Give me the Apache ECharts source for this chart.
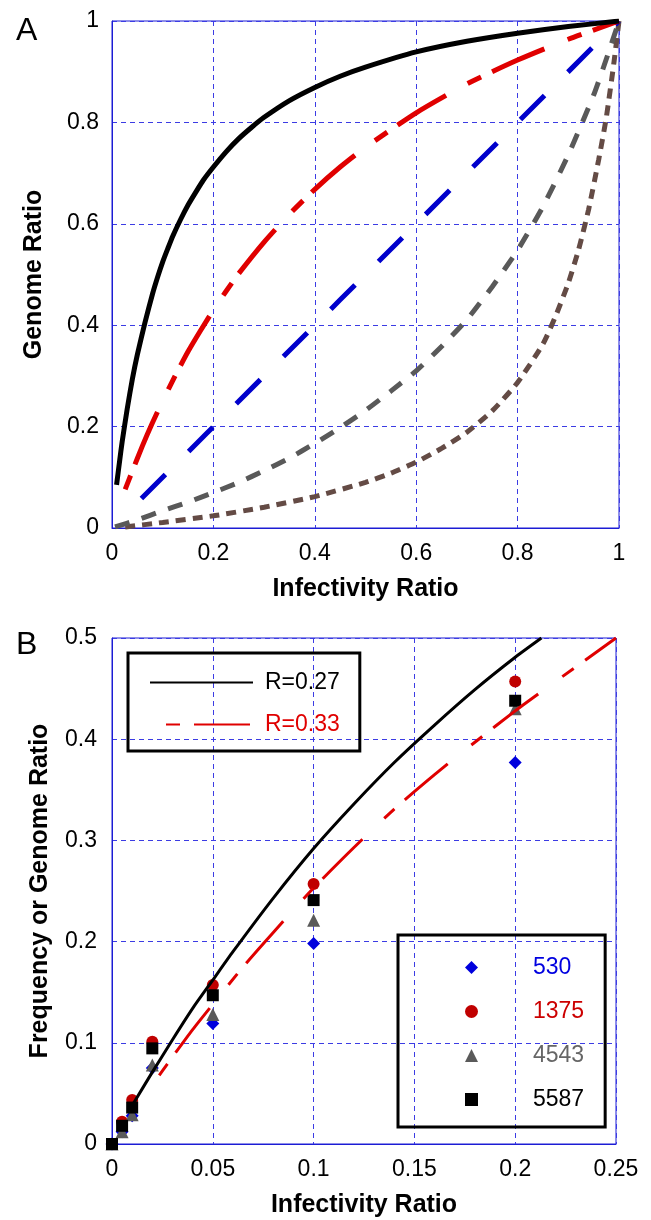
<!DOCTYPE html>
<html>
<head>
<meta charset="utf-8">
<script src="https://cdn.jsdelivr.net/npm/echarts@6/dist/echarts.min.js"></script>
<style>
  html, body { margin: 0; padding: 0; background: #ffffff; }
  #chart { width: 651px; height: 1220px; }
</style>
</head>
<body>
<div id="chart"></div>
<script>
// ---- panel A: genome ratio vs infectivity ratio, five model curves ----
const ticksA = [0, 0.2, 0.4, 0.6, 0.8, 1]
const curveBlackA = [[0.009, 0.085], [0.015, 0.132], [0.02, 0.17], [0.03, 0.235], [0.04, 0.293], [0.05, 0.342], [0.065, 0.405], [0.08, 0.462], [0.09, 0.495], [0.1, 0.525], [0.11, 0.551], [0.12, 0.576], [0.135, 0.608], [0.15, 0.637], [0.165, 0.662], [0.18, 0.686], [0.2, 0.712], [0.225, 0.742], [0.25, 0.768], [0.275, 0.79], [0.3, 0.81], [0.35, 0.843], [0.4, 0.869], [0.45, 0.891], [0.5, 0.909], [0.6, 0.939], [0.7, 0.96], [0.8, 0.976], [0.9, 0.989], [1, 1]]
const curveRedA = [[0.026, 0.076], [0.04, 0.112], [0.06, 0.162], [0.08, 0.208], [0.1, 0.251], [0.125, 0.301], [0.15, 0.348], [0.175, 0.39], [0.2, 0.43], [0.225, 0.467], [0.25, 0.502], [0.3, 0.564], [0.35, 0.619], [0.4, 0.668], [0.45, 0.712], [0.5, 0.751], [0.6, 0.819], [0.7, 0.876], [0.8, 0.923], [0.9, 0.964], [1, 1]]
const curveBlueA = [[0.058, 0.058], [0.3, 0.3], [0.6, 0.6], [1, 1]]
const curveGrayA = [[0.006, 0.002], [0.05, 0.016], [0.1, 0.034], [0.15, 0.051], [0.2, 0.07], [0.25, 0.09], [0.3, 0.113], [0.35, 0.138], [0.4, 0.167], [0.45, 0.198], [0.5, 0.232], [0.55, 0.27], [0.6, 0.31], [0.65, 0.358], [0.7, 0.411], [0.75, 0.476], [0.8, 0.548], [0.85, 0.634], [0.9, 0.736], [0.95, 0.854], [0.975, 0.925], [1, 1]]
const curveBrownA = [[0.026, 0.002], [0.1, 0.011], [0.2, 0.024], [0.3, 0.041], [0.4, 0.062], [0.5, 0.09], [0.55, 0.108], [0.6, 0.13], [0.65, 0.157], [0.7, 0.189], [0.75, 0.231], [0.8, 0.287], [0.85, 0.363], [0.875, 0.418], [0.9, 0.483], [0.92, 0.548], [0.94, 0.628], [0.96, 0.727], [0.975, 0.81], [0.99, 0.918], [1, 1]]

// ---- panel B: low infectivity ratios, two fits and four isolates ----
const ticksBx = [0, 0.05, 0.1, 0.15, 0.2, 0.25]
const ticksBy = [0, 0.1, 0.2, 0.3, 0.4, 0.5]
const fitR027 = [[0.0106, 0.04], [0.02, 0.071], [0.03, 0.103], [0.04, 0.134], [0.05, 0.162], [0.06, 0.19], [0.08, 0.243], [0.1, 0.292], [0.12, 0.336], [0.14, 0.377], [0.16, 0.414], [0.18, 0.449], [0.2, 0.481], [0.213, 0.5]]
const fitR033 = [[0.0188, 0.055], [0.03, 0.086], [0.04, 0.113], [0.05, 0.138], [0.065, 0.175], [0.08, 0.209], [0.1, 0.253], [0.12, 0.293], [0.14, 0.331], [0.16, 0.365], [0.18, 0.397], [0.2, 0.428], [0.22, 0.457], [0.25, 0.5]]
const infectivityB = [0, 0.005, 0.01, 0.02, 0.05, 0.1, 0.2]
const iso530 = [0, 0.012, 0.028, 0.075, 0.119, 0.198, 0.377]
const iso1375 = [0, 0.022, 0.0435, 0.101, 0.157, 0.257, 0.457]
const iso4543 = [0, 0.012, 0.029, 0.078, 0.128, 0.221, 0.43]
const iso5587 = [0, 0.018, 0.036, 0.0945, 0.147, 0.241, 0.438]

const font = 'Liberation Sans, Arial, sans-serif'
const frameColor = '#1c1cd4'
const gridColor = '#3c3ce4'

const pairUp = (xs, ys) => xs.map((x, i) => [x, ys[i]])

const makeAxis = (gridIndex, ticks, opts) => {
  return {
    gridIndex: gridIndex,
    type: 'value',
    min: ticks[0],
    max: ticks[ticks.length - 1],
    interval: ticks[1] - ticks[0],
    axisLine: { show: true, onZero: false, lineStyle: { color: frameColor, width: 1 } },
    axisTick: { show: false },
    axisLabel: {
      margin: opts.margin,
      fontSize: 23,
      color: '#000',
      fontFamily: font,
      formatter: (v) => String(+v.toFixed(2))
    },
    splitLine: { show: true, lineStyle: { color: gridColor, width: 1, type: [5, 4] } },
    name: opts.name,
    nameLocation: 'middle',
    nameGap: opts.nameGap,
    nameTextStyle: { fontSize: 25, fontWeight: 'bold', color: '#000', fontFamily: font }
  }
}

const curve = (name, data, color, dash, offset) => {
  return {
    name: name,
    type: 'line',
    xAxisIndex: 0,
    yAxisIndex: 0,
    data: data,
    symbol: 'none',
    smooth: 0.2,
    silent: true,
    lineStyle: { color: color, width: 5, type: dash, dashOffset: offset || 0, cap: 'butt' }
  }
}

const isolate = (name, ys, symbol, size, color) => {
  return {
    name: name,
    type: 'scatter',
    xAxisIndex: 1,
    yAxisIndex: 1,
    data: pairUp(infectivityB, ys),
    symbol: symbol,
    symbolSize: size,
    clip: false,
    itemStyle: { color: color, opacity: 1 }
  }
}

const fitB = (name, data, color, dash, offset) => {
  return {
    name: name,
    type: 'line',
    xAxisIndex: 1,
    yAxisIndex: 1,
    data: data,
    symbol: 'none',
    smooth: 0.2,
    lineStyle: { color: color, width: 3, type: dash, dashOffset: offset || 0 }
  }
}

const chart = echarts.init(document.getElementById('chart'), null, { renderer: 'canvas' })

chart.setOption({
  backgroundColor: '#ffffff',
  animation: false,
  title: [
    { text: 'A', left: 16, top: 15, padding: 0, textStyle: { fontSize: 32, fontWeight: 'normal', color: '#000', fontFamily: font } },
    { text: 'B', left: 16, top: 629, padding: 0, textStyle: { fontSize: 32, fontWeight: 'normal', color: '#000', fontFamily: font } }
  ],
  grid: [
    { left: 112, top: 21, width: 507, height: 507, show: true, borderColor: frameColor, borderWidth: 1, outerBoundsMode: 'none' },
    { left: 112, top: 638, width: 504, height: 506, show: true, borderColor: frameColor, borderWidth: 1, outerBoundsMode: 'none' }
  ],
  xAxis: [
    makeAxis(0, ticksA, { margin: 14, name: 'Infectivity Ratio', nameGap: 49 }),
    makeAxis(1, ticksBx, { margin: 14, name: 'Infectivity Ratio', nameGap: 49 })
  ],
  yAxis: [
    makeAxis(0, ticksA, { margin: 13, name: 'Genome Ratio', nameGap: 65 }),
    makeAxis(1, ticksBy, { margin: 15, name: 'Frequency or Genome Ratio', nameGap: 59 })
  ],
  legend: [
    {
      orient: 'vertical',
      left: 128,
      top: 653,
      padding: [18, 20, 15, 21],
      itemWidth: 103,
      itemHeight: 14,
      itemGap: 19,
      borderColor: '#000',
      borderWidth: 3,
      selectedMode: false,
      itemStyle: { opacity: 0 },
      textStyle: { fontSize: 23, fontFamily: font, padding: [0, 0, 0, 7] },
      data: [
        { name: 'R=0.27', textStyle: { color: '#000' } },
        { name: 'R=0.33', textStyle: { color: '#e00000' } }
      ]
    },
    {
      orient: 'vertical',
      left: 398,
      top: 935,
      padding: [21, 21, 16, 67],
      itemWidth: 13,
      itemHeight: 13,
      itemGap: 21,
      borderColor: '#000',
      borderWidth: 3,
      selectedMode: false,
      textStyle: { fontSize: 23, fontFamily: font, padding: [0, 0, 0, 50] },
      data: [
        { name: '530', textStyle: { color: '#0000e0' } },
        { name: '1375', textStyle: { color: '#cc0000' } },
        { name: '4543', textStyle: { color: '#666666' } },
        { name: '5587', textStyle: { color: '#000' } }
      ]
    }
  ],
  series: [
    curve('brownA', curveBrownA, '#644b45', [10, 7]),
    curve('grayA', curveGrayA, '#595959', [15, 13]),
    curve('blueA', curveBlueA, '#0000cc', [34, 33]),
    curve('redA', curveRedA, '#e00000', [57, 25, 15, 12], 82),
    curve('blackA', curveBlackA, '#000000', 'solid'),
    fitB('R=0.27', fitR027, '#000000', 'solid'),
    fitB('R=0.33', fitR033, '#e00000', [56, 30, 14, 14], 70),
    isolate('530', iso530, 'diamond', 13, '#0000dd'),
    isolate('1375', iso1375, 'circle', 12, '#c00000'),
    isolate('4543', iso4543, 'triangle', 13, '#5a5a5a'),
    isolate('5587', iso5587, 'rect', 12, '#000000')
  ]
})
</script>
</body>
</html>
